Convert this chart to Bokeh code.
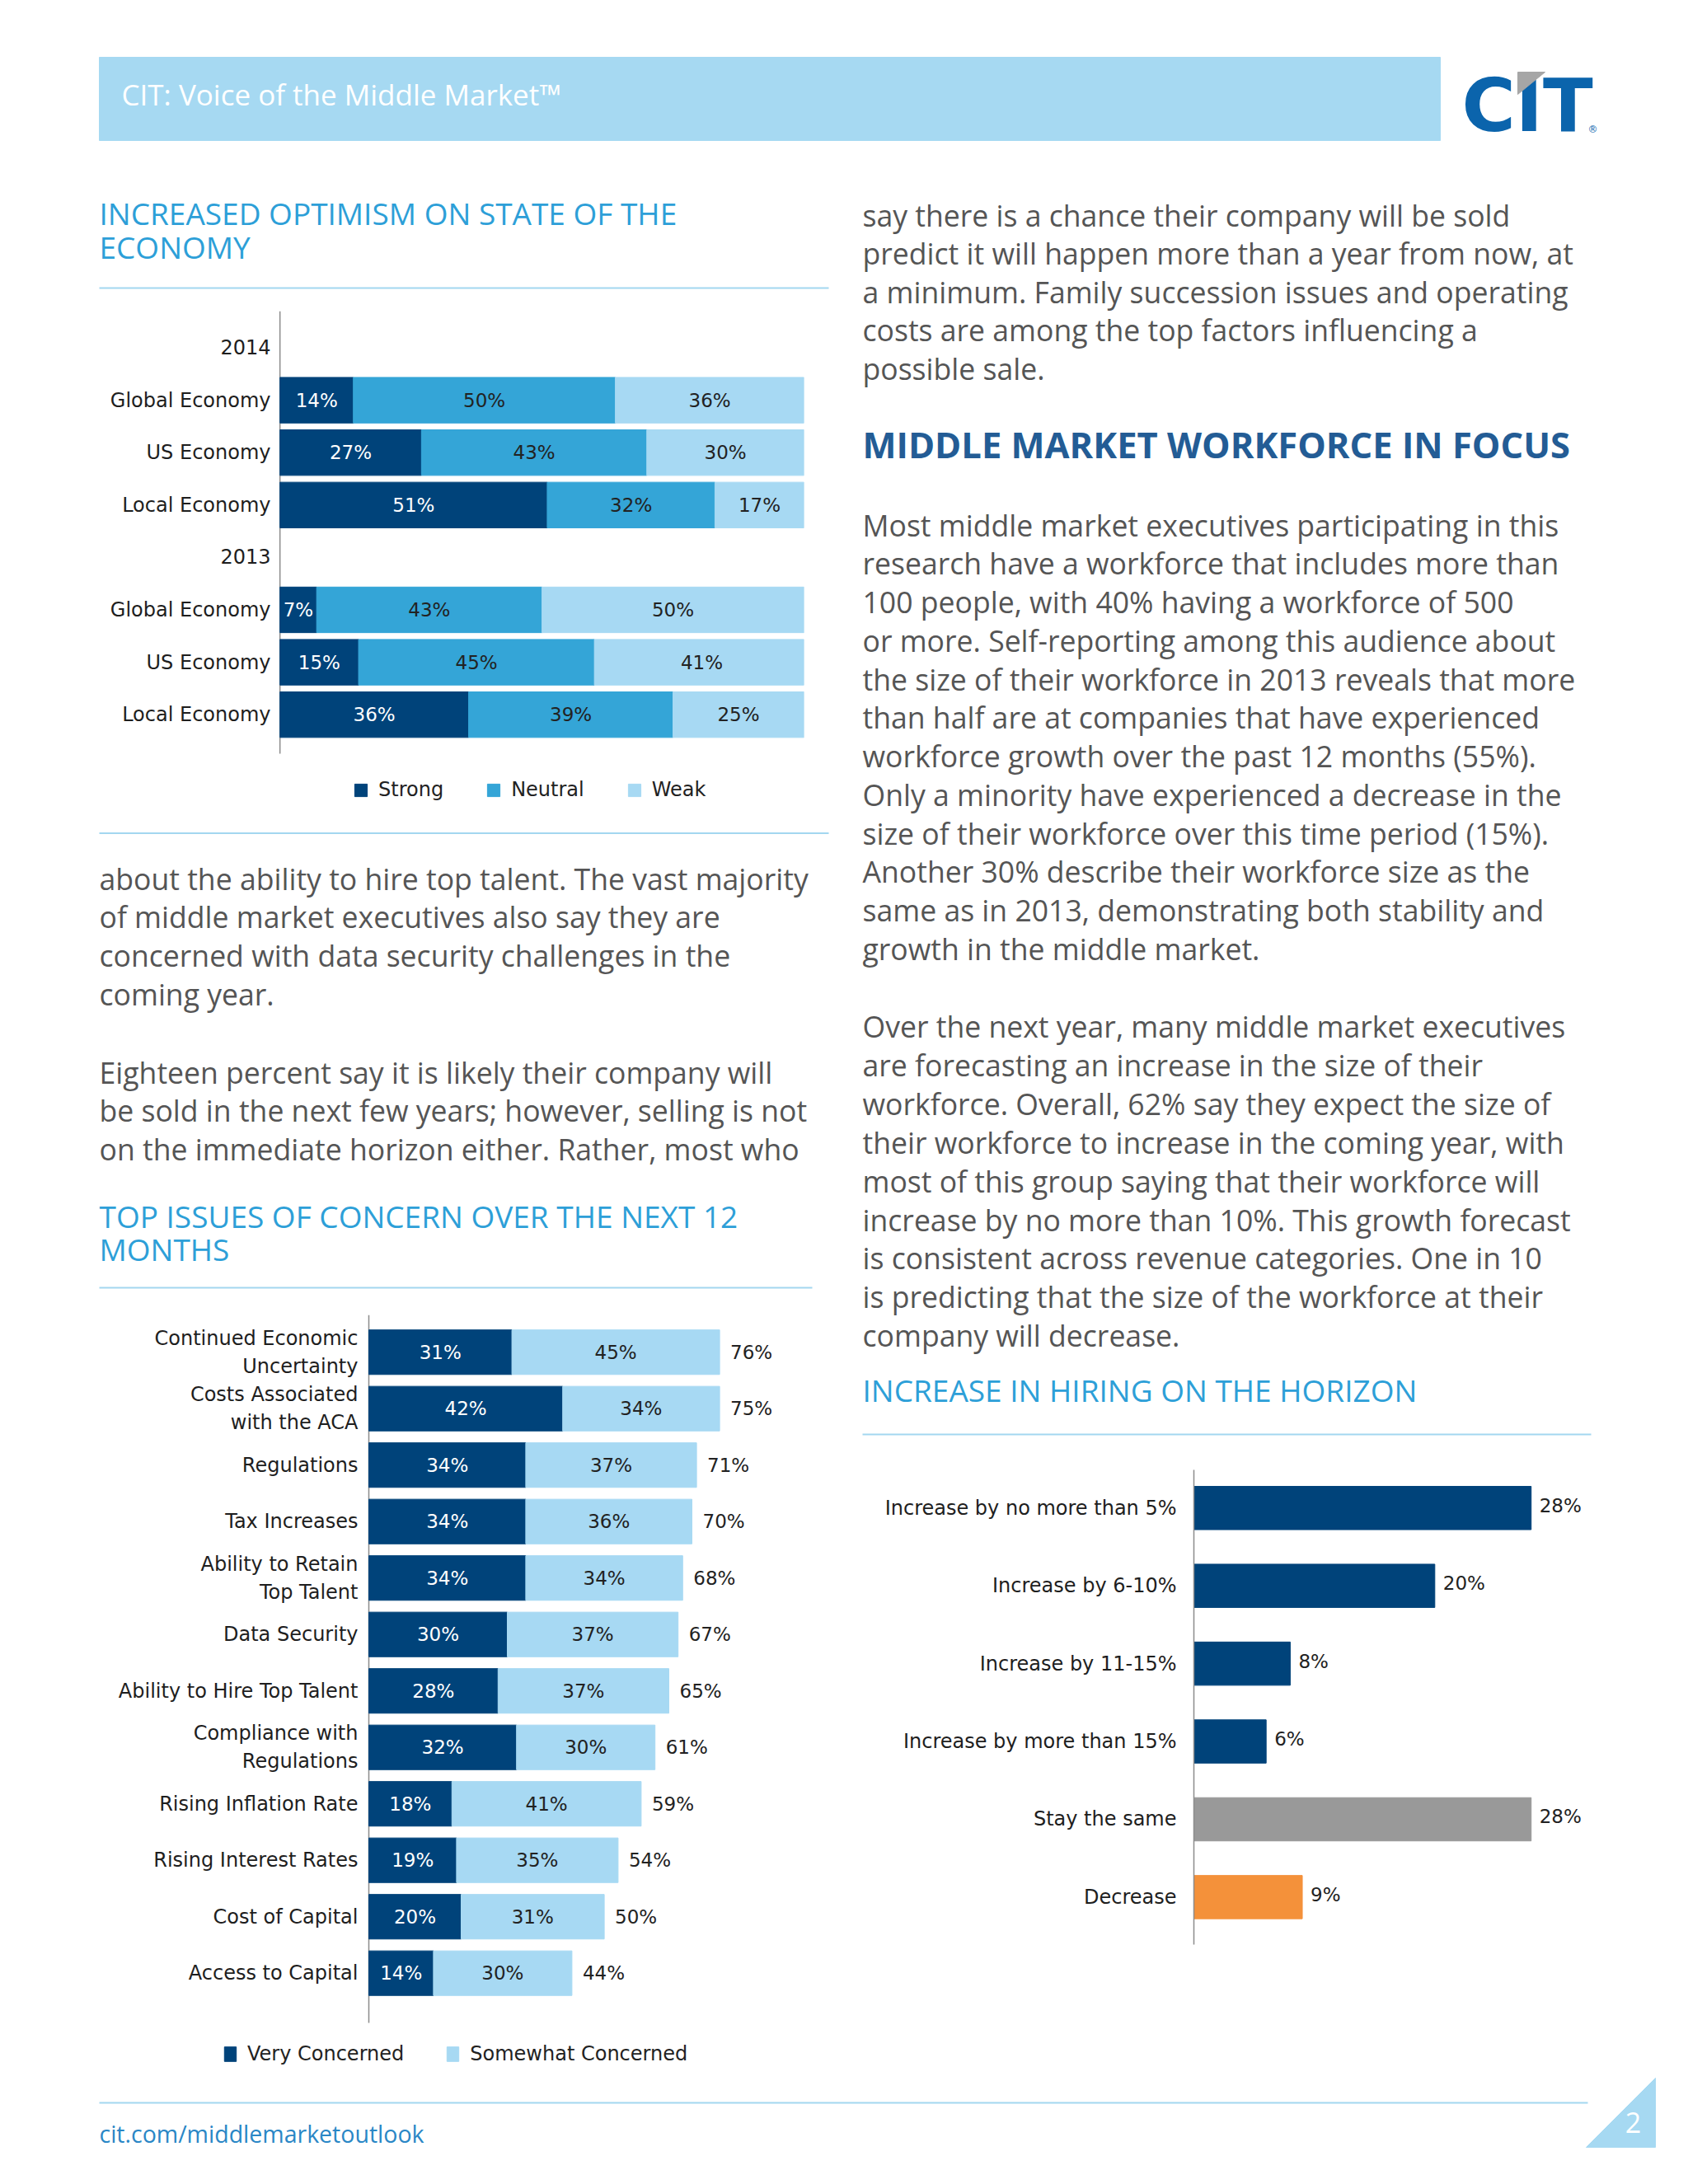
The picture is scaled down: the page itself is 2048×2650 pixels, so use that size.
from bokeh.plotting import figure
from bokeh.models import Range1d, FixedTicker, Legend, LegendItem
from bokeh.layouts import column, row
from bokeh.core.properties import value
from bokeh.embed import file_html
from bokeh.resources import INLINE

# ---------------- data ----------------
econ_axis_labels = ["2014", "Global Economy", "US Economy", "Local Economy",
                    "2013", "Global Economy", "US Economy", "Local Economy"]
econ_rows = [1, 2, 3, 5, 6, 7]          # rows of the axis that carry bars
econ_strong = [14, 27, 51, 7, 15, 36]
econ_neutral = [50, 43, 32, 43, 45, 39]
econ_weak = [36, 30, 17, 50, 41, 25]

concern_issues = ["Continued Economic\nUncertainty", "Costs Associated\nwith the ACA",
                  "Regulations", "Tax Increases", "Ability to Retain\nTop Talent",
                  "Data Security", "Ability to Hire Top Talent",
                  "Compliance with\nRegulations", "Rising Inflation Rate",
                  "Rising Interest Rates", "Cost of Capital", "Access to Capital"]
concern_very = [31, 42, 34, 34, 34, 30, 28, 32, 18, 19, 20, 14]
concern_somewhat = [45, 34, 37, 36, 34, 37, 37, 30, 41, 35, 31, 30]
concern_total = [76, 75, 71, 70, 68, 67, 65, 61, 59, 54, 50, 44]

hiring_cats = ["Increase by no more than 5%", "Increase by 6-10%", "Increase by 11-15%",
               "Increase by more than 15%", "Stay the same", "Decrease"]
hiring_vals = [28, 20, 8, 6, 28, 9]
hiring_colors = ["#00437a", "#00437a", "#00437a", "#00437a", "#999999", "#f4913a"]

# ---------------- styles ----------------
NAVY = "#00437a"
MID = "#34a5d7"
LIGHT = "#a7d9f3"
HEAD = "#2d9fd8"
BODY = "#555555"
RULE = "#a3d7f0"
AXIS = "#8c8c8c"
BODY_FONT = value("Open Sans")
CHART_FONT = value("DejaVu Sans")


def panel(x0, y0, w, h):
    p = figure(width=w, height=h, x_range=Range1d(x0, x0 + w), y_range=Range1d(y0 + h, y0),
               x_axis_location=None, y_axis_location=None, toolbar_location=None,
               output_backend="svg", min_border=0, frame_align=False)
    p.grid.visible = False
    p.outline_line_color = None
    p.background_fill_color = "white"
    p.border_fill_color = "white"
    return p


def lines(p, x, y0, step, texts, size="35.6px", color=BODY, style="normal"):
    ys = [y0 + i * step for i in range(len(texts))]
    p.text(x=[x] * len(texts), y=ys, text=texts, text_font=BODY_FONT, text_font_size=size,
           text_color=color, text_baseline="middle", text_align="left", text_font_style=style)


def chart(w, h, left, right, top, bottom, xr, yr):
    p = figure(width=w, height=h, x_range=xr, y_range=yr, x_axis_location=None,
               toolbar_location=None, output_backend="svg", frame_align=False,
               min_border_left=left, min_border_right=right,
               min_border_top=top, min_border_bottom=bottom)
    p.grid.visible = False
    p.outline_line_color = None
    p.background_fill_color = "white"
    p.border_fill_color = "white"
    ax = p.yaxis[0]
    ax.axis_line_color = None
    ax.major_tick_line_color = None
    ax.minor_tick_line_color = None
    ax.major_label_text_font = "DejaVu Sans"
    ax.major_label_text_font_size = "24px"
    ax.major_label_text_color = "#1e1e1e"
    return p


# ---------------- top band ----------------
top = panel(0, 0, 2040, 230)
top.quad(left=120, right=1747, top=69, bottom=170, color="#a6d9f2")
top.text(x=[147], y=[114], text=["CIT: Voice of the Middle Market\u2122"], text_font=BODY_FONT,
         text_font_size="35px", text_color="white", text_baseline="middle")
top.text(x=[1773], y=[127], text=["CIT"], text_font=value("DejaVu Sans"), text_font_style="bold",
         text_font_size="89px", text_color="#0b64ac", text_baseline="middle")
top.patch(x=[1841, 1874, 1841], y=[87, 87, 114], color="#a6a6a6")
top.text(x=[1926], y=[156], text=["\u00ae"], text_font=value("DejaVu Sans"),
         text_font_size="12px", text_color="#0b64ac", text_baseline="middle")

# ---------------- left: heading 1 ----------------
l1 = panel(0, 230, 1030, 140)
lines(l1, 120, 258, 40.6, ["INCREASED OPTIMISM ON STATE OF THE", "ECONOMY"], size="37px", color=HEAD)
l1.segment(x0=[120], y0=[349], x1=[1005], y1=[349], line_color=RULE, line_width=2)

# ---------------- chart 1 ----------------
# frame reaches below the last bar so that the legend sits inside it
c1 = chart(1030, 630, 336, 55, 7, 8, Range1d(-0.5, 100), Range1d(8.971, -0.70))
ax1 = c1.yaxis[0]
ax1.ticker = FixedTicker(ticks=list(range(len(econ_axis_labels))))
ax1.major_label_overrides = {i: lab for i, lab in enumerate(econ_axis_labels)}
ax1.major_label_standoff = 2
c1.segment(x0=[0], y0=[-0.70], x1=[0], y1=[7.745], line_color=AXIS, line_width=1.5)

s_end = econ_strong
n_end = [a + b for a, b in zip(econ_strong, econ_neutral)]
w_end = [a + b for a, b in zip(n_end, econ_weak)]
r_s = c1.hbar(y=econ_rows, left=0, right=s_end, height=0.87, color=NAVY)
r_n = c1.hbar(y=econ_rows, left=s_end, right=n_end, height=0.87, color=MID)
r_w = c1.hbar(y=econ_rows, left=n_end, right=w_end, height=0.87, color=LIGHT)
c1.text(x=[v / 2 for v in econ_strong], y=econ_rows, text=[f"{v}%" for v in econ_strong],
        text_font=CHART_FONT, text_font_size="23px", text_color="white",
        text_align="center", text_baseline="middle")
c1.text(x=[a + b / 2 for a, b in zip(s_end, econ_neutral)], y=econ_rows,
        text=[f"{v}%" for v in econ_neutral], text_font=CHART_FONT, text_font_size="23px",
        text_color="#222222", text_align="center", text_baseline="middle")
c1.text(x=[a + b / 2 for a, b in zip(n_end, econ_weak)], y=econ_rows,
        text=[f"{v}%" for v in econ_weak], text_font=CHART_FONT, text_font_size="23px",
        text_color="#222222", text_align="center", text_baseline="middle")
leg1 = Legend(items=[LegendItem(label="Strong", renderers=[r_s]),
                     LegendItem(label="Neutral", renderers=[r_n]),
                     LegendItem(label="Weak", renderers=[r_w])],
              orientation="horizontal", location=(92, 20), border_line_color=None,
              background_fill_alpha=0, glyph_width=19, glyph_height=19, label_standoff=12,
              spacing=51, padding=0, margin=0, label_text_font="DejaVu Sans",
              label_text_font_size="24px", label_text_color="#222222")
c1.add_layout(leg1, "center")

# ---------------- left: text + heading 2 ----------------
l2 = panel(0, 1000, 1030, 580)
l2.segment(x0=[120], y0=[1010.5], x1=[1005], y1=[1010.5], line_color=RULE, line_width=2)
lines(l2, 120, 1065, 46.8, ["about the ability to hire top talent. The vast majority",
                            "of middle market executives also say they are",
                            "concerned with data security challenges in the",
                            "coming year."])
lines(l2, 120, 1300, 46.8, ["Eighteen percent say it is likely their company will",
                            "be sold in the next few years; however, selling is not",
                            "on the immediate horizon either. Rather, most who"])
lines(l2, 120, 1474.5, 40.6, ["TOP ISSUES OF CONCERN OVER THE NEXT 12", "MONTHS"],
      size="37px", color=HEAD)
l2.segment(x0=[120], y0=[1562], x1=[985], y1=[1562], line_color=RULE, line_width=2)

# ---------------- chart 2 ----------------
# the frame starts left of the axis (fixed at x=0) so labels and legend fit inside it
ys2 = list(range(len(concern_issues)))
c2 = chart(1030, 935, 120, 23, 15, 3, Range1d(-58.39, 100), Range1d(12.727, -0.66))
ax2 = c2.yaxis[0]
ax2.fixed_location = 0
ax2.ticker = FixedTicker(ticks=ys2)
ax2.major_label_overrides = {i: lab for i, lab in enumerate(concern_issues)}
ax2.major_label_standoff = 7
c2.segment(x0=[0], y0=[-0.66], x1=[0], y1=[11.88], line_color=AXIS, line_width=1.5)
v_end = concern_very
sw_end = [a + b for a, b in zip(concern_very, concern_somewhat)]
r_v = c2.hbar(y=ys2, left=0, right=v_end, height=0.79, color=NAVY)
r_sw = c2.hbar(y=ys2, left=v_end, right=sw_end, height=0.79, color=LIGHT)
c2.text(x=[v / 2 for v in concern_very], y=ys2, text=[f"{v}%" for v in concern_very],
        text_font=CHART_FONT, text_font_size="23px", text_color="white",
        text_align="center", text_baseline="middle")
c2.text(x=[a + b / 2 for a, b in zip(v_end, concern_somewhat)], y=ys2,
        text=[f"{v}%" for v in concern_somewhat], text_font=CHART_FONT, text_font_size="23px",
        text_color="#222222", text_align="center", text_baseline="middle")
c2.text(x=sw_end, y=ys2, text=[f"{v}%" for v in concern_total], x_offset=13,
        text_font=CHART_FONT, text_font_size="23px", text_color="#222222",
        text_align="left", text_baseline="middle")
leg2 = Legend(items=[LegendItem(label="Very Concerned", renderers=[r_v]),
                     LegendItem(label="Somewhat Concerned", renderers=[r_sw])],
              orientation="horizontal", location=(150, 6), border_line_color=None,
              background_fill_alpha=0, glyph_width=18, glyph_height=22, label_standoff=12,
              spacing=50, padding=0, margin=0, label_text_font="DejaVu Sans",
              label_text_font_size="24px", label_text_color="#222222")
c2.add_layout(leg2, "center")

# ---------------- right column text ----------------
r1 = panel(1030, 230, 1010, 1530)
lines(r1, 1046, 260, 46.6, ["say there is a chance their company will be sold",
                            "predict it will happen more than a year from now, at",
                            "a minimum. Family succession issues and operating",
                            "costs are among the top factors influencing a",
                            "possible sale."])
lines(r1, 1046, 539, 0, ["MIDDLE MARKET WORKFORCE IN FOCUS"], size="43.5px", color="#235c95",
      style="bold")
lines(r1, 1046, 636, 46.75, ["Most middle market executives participating in this",
                             "research have a workforce that includes more than",
                             "100 people, with 40% having a workforce of 500",
                             "or more. Self-reporting among this audience about",
                             "the size of their workforce in 2013 reveals that more",
                             "than half are at companies that have experienced",
                             "workforce growth over the past 12 months (55%).",
                             "Only a minority have experienced a decrease in the",
                             "size of their workforce over this time period (15%).",
                             "Another 30% describe their workforce size as the",
                             "same as in 2013, demonstrating both stability and",
                             "growth in the middle market."])
lines(r1, 1046, 1244.5, 46.9, ["Over the next year, many middle market executives",
                               "are forecasting an increase in the size of their",
                               "workforce. Overall, 62% say they expect the size of",
                               "their workforce to increase in the coming year, with",
                               "most of this group saying that their workforce will",
                               "increase by no more than 10%. This growth forecast",
                               "is consistent across revenue categories. One in 10",
                               "is predicting that the size of the workforce at their",
                               "company will decrease."])
lines(r1, 1046, 1686, 0, ["INCREASE IN HIRING ON THE HORIZON"], size="37px", color=HEAD)
r1.segment(x0=[1046], y0=[1740], x1=[1930], y1=[1740], line_color=RULE, line_width=2)

# ---------------- chart 3 ----------------
ys3 = list(range(len(hiring_cats)))
c3 = chart(1010, 755, 418, 60, 23, 156, Range1d(0, 36.4), Range1d(5.61, -0.49))
ax3 = c3.yaxis[0]
ax3.axis_line_color = AXIS
ax3.axis_line_width = 1.5
ax3.ticker = FixedTicker(ticks=ys3)
ax3.major_label_overrides = {i: lab for i, lab in enumerate(hiring_cats)}
ax3.major_label_standoff = 15
c3.hbar(y=ys3, left=0, right=hiring_vals, height=0.556, color=hiring_colors)
c3.text(x=hiring_vals, y=ys3, text=[f"{v}%" for v in hiring_vals], x_offset=10, y_offset=-3,
        text_font=CHART_FONT, text_font_size="23px", text_color="#222222",
        text_align="left", text_baseline="middle")

# ---------------- footer ----------------
foot = panel(0, 2515, 2040, 135)
foot.segment(x0=[120], y0=[2551], x1=[1926], y1=[2551], line_color=RULE, line_width=2)
foot.text(x=[120], y=[2588], text=["cit.com/middlemarketoutlook"], text_font=BODY_FONT,
          text_font_size="28.5px", text_color="#2a87c6", text_baseline="middle")
foot.patch(x=[1924, 2008, 2008], y=[2605, 2521, 2605], color="#a6d9f2")
foot.text(x=[1981], y=[2575], text=["2"], text_font=BODY_FONT, text_font_size="34px",
          text_color="white", text_align="center", text_baseline="middle")

left_col = column(l1, c1, l2, c2, spacing=0)
right_col = column(r1, c3, spacing=0)
page = column(top, row(left_col, right_col, spacing=0), foot, spacing=0)

open("out.html", "w").write(file_html(page, INLINE))
